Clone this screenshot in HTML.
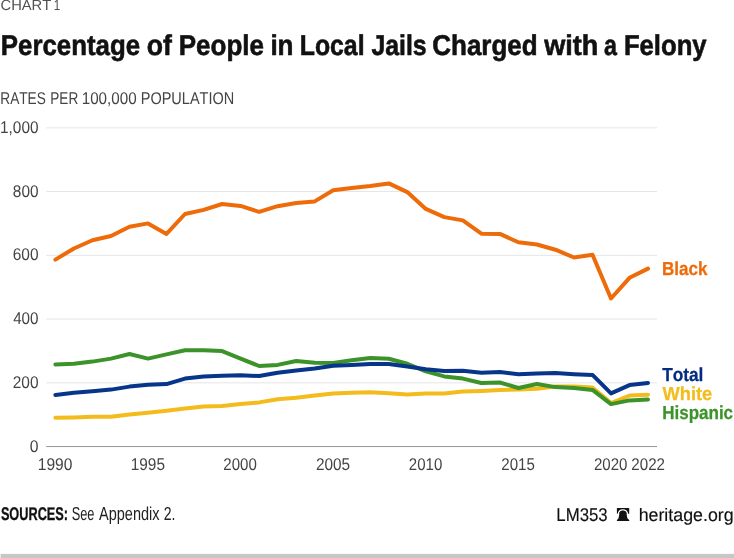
<!DOCTYPE html>
<html lang="en">
<head>
<meta charset="utf-8">
<title>Percentage of People in Local Jails Charged with a Felony</title>
<style>
html,body{margin:0;padding:0;background:#fff;}
body{width:734px;height:558px;overflow:hidden;position:relative;font-family:"Liberation Sans",sans-serif;}
svg{display:block;position:absolute;left:0;top:0;}
text{font-family:"Liberation Sans",sans-serif;font-kerning:none;text-rendering:geometricPrecision;white-space:pre;}
.ln{fill:none;stroke-width:4.0;stroke-linejoin:round;stroke-linecap:round;}
</style>
</head>
<body>
<svg width="734" height="558" viewBox="0 0 734 558">
<rect x="0" y="0" width="734" height="558" fill="#fff"/>
<g>
<text y="10.00" font-size="14.7" fill="#505050"><tspan x="0.55" textLength="50.68" lengthAdjust="spacingAndGlyphs">CHART</tspan> <tspan x="53.72" textLength="6.45" lengthAdjust="spacingAndGlyphs">1</tspan></text>
</g>
<g>
<text y="54.70" font-size="28.7" font-weight="bold" fill="#111" stroke="#111" stroke-width="0.6" stroke-linejoin="round"><tspan x="0.87" textLength="139.21" lengthAdjust="spacingAndGlyphs">Percentage</tspan> <tspan x="146.76" textLength="25.09" lengthAdjust="spacingAndGlyphs">of</tspan> <tspan x="178.76" textLength="85.23" lengthAdjust="spacingAndGlyphs">People</tspan> <tspan x="270.38" textLength="23.13" lengthAdjust="spacingAndGlyphs">in</tspan> <tspan x="299.74" textLength="64.82" lengthAdjust="spacingAndGlyphs">Local</tspan> <tspan x="371.42" textLength="55.19" lengthAdjust="spacingAndGlyphs">Jails</tspan> <tspan x="432.23" textLength="105.48" lengthAdjust="spacingAndGlyphs">Charged</tspan> <tspan x="544.18" textLength="54.10" lengthAdjust="spacingAndGlyphs">with</tspan> <tspan x="604.02" textLength="12.93" lengthAdjust="spacingAndGlyphs">a</tspan> <tspan x="623.88" textLength="82.76" lengthAdjust="spacingAndGlyphs">Felony</tspan></text>
</g>
<g>
<text y="104.10" font-size="17" fill="#444"><tspan x="0.28" textLength="45.55" lengthAdjust="spacingAndGlyphs">RATES</tspan> <tspan x="50.29" textLength="27.95" lengthAdjust="spacingAndGlyphs">PER</tspan> <tspan x="81.74" textLength="54.85" lengthAdjust="spacingAndGlyphs">100,000</tspan> <tspan x="140.71" textLength="93.57" lengthAdjust="spacingAndGlyphs">POPULATION</tspan></text>
</g>
<g>
<line x1="46.2" x2="657" y1="127.85" y2="127.85" stroke="#e5e5e8" stroke-width="1"/>
<line x1="46.2" x2="657" y1="191.55" y2="191.55" stroke="#e5e5e8" stroke-width="1"/>
<line x1="46.2" x2="657" y1="255.35" y2="255.35" stroke="#e5e5e8" stroke-width="1"/>
<line x1="46.2" x2="657" y1="319.05" y2="319.05" stroke="#e5e5e8" stroke-width="1"/>
<line x1="46.2" x2="657" y1="382.85" y2="382.85" stroke="#e5e5e8" stroke-width="1"/>
<line x1="46.2" x2="657" y1="446.55" y2="446.55" stroke="#96969c" stroke-width="1"/>
</g>
<g>
<text y="132.80" font-size="17" fill="#444"><tspan x="0.03" textLength="38.47" lengthAdjust="spacingAndGlyphs">1,000</tspan></text>
<text y="196.50" font-size="17" fill="#444"><tspan x="12.83" textLength="25.67" lengthAdjust="spacingAndGlyphs">800</tspan></text>
<text y="260.30" font-size="17" fill="#444"><tspan x="12.72" textLength="25.79" lengthAdjust="spacingAndGlyphs">600</tspan></text>
<text y="324.00" font-size="17" fill="#444"><tspan x="13.15" textLength="25.34" lengthAdjust="spacingAndGlyphs">400</tspan></text>
<text y="387.80" font-size="17" fill="#444"><tspan x="12.72" textLength="25.78" lengthAdjust="spacingAndGlyphs">200</tspan></text>
<text y="451.50" font-size="17" fill="#444"><tspan x="29.79" textLength="8.73" lengthAdjust="spacingAndGlyphs">0</tspan></text>
</g>
<g>
<text y="470.00" font-size="17" fill="#444"><tspan x="37.82" textLength="34.59" lengthAdjust="spacingAndGlyphs">1990</tspan></text>
<text y="470.00" font-size="17" fill="#444"><tspan x="130.73" textLength="34.22" lengthAdjust="spacingAndGlyphs">1995</tspan></text>
<text y="470.00" font-size="17" fill="#444"><tspan x="223.34" textLength="33.44" lengthAdjust="spacingAndGlyphs">2000</tspan></text>
<text y="470.00" font-size="17" fill="#444"><tspan x="315.93" textLength="34.12" lengthAdjust="spacingAndGlyphs">2005</tspan></text>
<text y="470.00" font-size="17" fill="#444"><tspan x="408.84" textLength="33.44" lengthAdjust="spacingAndGlyphs">2010</tspan></text>
<text y="470.00" font-size="17" fill="#444"><tspan x="501.34" textLength="33.49" lengthAdjust="spacingAndGlyphs">2015</tspan></text>
<text y="470.00" font-size="17" fill="#444"><tspan x="593.94" textLength="33.44" lengthAdjust="spacingAndGlyphs">2020</tspan></text>
<text y="470.00" font-size="17" fill="#444"><tspan x="631.34" textLength="33.62" lengthAdjust="spacingAndGlyphs">2022</tspan></text>
</g>
<polyline class="ln" stroke="#f3bc1c" points="55.4,417.8 73.9,417.4 92.4,416.8 111.0,416.8 129.5,414.6 148.0,412.8 166.5,410.7 185.0,408.5 203.6,406.5 222.1,405.9 240.6,404.1 259.1,402.4 277.6,399.3 296.2,397.8 314.7,395.4 333.2,393.4 351.7,392.8 370.2,392.3 388.8,393.2 407.3,394.5 425.8,393.4 444.3,393.4 462.8,391.6 481.4,391.0 499.9,390.1 518.4,389.5 536.9,388.8 555.4,386.6 574.0,386.5 592.5,387.4 611.0,403.1 629.5,395.6 648.0,394.7"/>
<polyline class="ln" stroke="#3b932a" points="55.4,364.4 73.9,363.8 92.4,361.6 111.0,358.6 129.5,354.0 148.0,358.6 166.5,354.4 185.0,350.3 203.6,350.3 222.1,351.1 240.6,358.6 259.1,366.0 277.6,364.9 296.2,361.0 314.7,362.7 333.2,362.9 351.7,360.3 370.2,358.1 388.8,358.8 407.3,363.8 425.8,371.4 444.3,376.4 462.8,378.6 481.4,383.0 499.9,382.5 518.4,388.0 536.9,384.0 555.4,387.1 574.0,388.0 592.5,389.9 611.0,404.1 629.5,400.4 648.0,399.5"/>
<polyline class="ln" stroke="#06358a" points="55.4,394.9 73.9,392.8 92.4,391.2 111.0,389.6 129.5,386.6 148.0,384.7 166.5,384.1 185.0,378.6 203.6,376.6 222.1,375.8 240.6,375.3 259.1,376.0 277.6,372.7 296.2,370.5 314.7,368.6 333.2,365.7 351.7,364.9 370.2,364.0 388.8,364.0 407.3,366.6 425.8,369.2 444.3,371.0 462.8,370.8 481.4,372.7 499.9,372.0 518.4,374.2 536.9,373.4 555.4,373.1 574.0,374.2 592.5,374.9 611.0,393.4 629.5,385.1 648.0,382.9"/>
<polyline class="ln" stroke="#ee6b0a" points="55.4,259.6 73.9,248.5 92.4,240.2 111.0,236.0 129.5,226.7 148.0,223.4 166.5,233.9 185.0,214.0 203.6,209.9 222.1,204.0 240.6,205.9 259.1,211.9 277.6,206.2 296.2,203.0 314.7,201.4 333.2,190.2 351.7,188.1 370.2,186.0 388.8,183.4 407.3,192.1 425.8,208.9 444.3,217.1 462.8,220.4 481.4,233.7 499.9,233.9 518.4,242.3 536.9,244.5 555.4,249.7 574.0,257.5 592.5,254.8 611.0,298.5 629.5,277.8 648.0,268.6"/>
<g>
<text y="275.30" font-size="18.9" font-weight="bold" fill="#ee6b0a" stroke="#ee6b0a" stroke-width="0.25" stroke-linejoin="round"><tspan x="661.88" textLength="45.58" lengthAdjust="spacingAndGlyphs">Black</tspan></text>
<text y="381.20" font-size="18.9" font-weight="bold" fill="#042c80" stroke="#042c80" stroke-width="0.25" stroke-linejoin="round"><tspan x="662.13" textLength="41.27" lengthAdjust="spacingAndGlyphs">Total</tspan></text>
<text y="399.70" font-size="18.9" font-weight="bold" fill="#f3bc1c" stroke="#f3bc1c" stroke-width="0.25" stroke-linejoin="round"><tspan x="662.51" textLength="49.79" lengthAdjust="spacingAndGlyphs">White</tspan></text>
<text y="418.80" font-size="18.9" font-weight="bold" fill="#3b932a" stroke="#3b932a" stroke-width="0.25" stroke-linejoin="round"><tspan x="662.19" textLength="70.89" lengthAdjust="spacingAndGlyphs">Hispanic</tspan></text>
</g>
<g>
<text y="520.00" font-size="18.3" font-weight="bold" fill="#111" stroke="#111" stroke-width="0.3" stroke-linejoin="round"><tspan x="0.88" textLength="67.19" lengthAdjust="spacingAndGlyphs">SOURCES:</tspan></text>
<text y="520.00" font-size="18.8" fill="#222"><tspan x="71.72" textLength="22.75" lengthAdjust="spacingAndGlyphs">See</tspan> <tspan x="98.97" textLength="60.58" lengthAdjust="spacingAndGlyphs">Appendix</tspan> <tspan x="163.70" textLength="11.68" lengthAdjust="spacingAndGlyphs">2.</tspan></text>
<text y="521.00" font-size="18.4" fill="#111" stroke="#111" stroke-width="0.15" stroke-linejoin="round"><tspan x="556.30" textLength="51.37" lengthAdjust="spacingAndGlyphs">LM353</tspan></text>
<text y="521.00" font-size="18.0" fill="#111" stroke="#111" stroke-width="0.15" stroke-linejoin="round"><tspan x="638.64" textLength="95.03" lengthAdjust="spacingAndGlyphs">heritage.org</tspan></text>
</g>
<g transform="translate(616.9,507.9)">
<rect x="0" y="0" width="12.3" height="5.9" rx="0.5" fill="#151213"/>
<path d="M1.3,6.4 C1.7,3.4 3.6,1.95 5.95,1.95 C8.3,1.95 10.3,3.4 10.75,6.4" fill="none" stroke="#fff" stroke-width="1.3"/>
<path d="M6.0,2.95 C8.2,2.95 9.35,4.2 9.63,5.9 L10.25,9.4 C10.45,10.6 11,11.4 12.35,12.0 V13.1 H0 V12.0 C1.35,11.4 1.6,10.6 1.8,9.4 L2.5,5.9 C2.8,4.2 3.8,2.95 6.0,2.95 Z" fill="#151213"/>
</g>
<rect x="0.6" y="553.9" width="734" height="5" fill="#c7c7c9"/>
</svg>
</body>
</html>
